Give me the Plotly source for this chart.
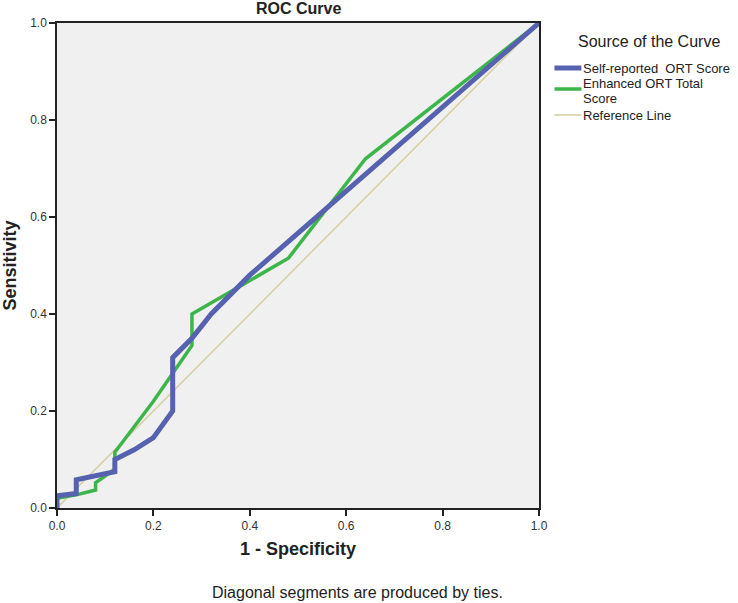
import plotly.graph_objects as go

# Data
self_fpr = [0.0, 0.0, 0.04, 0.04, 0.12, 0.12, 0.16, 0.20, 0.24, 0.24, 0.28, 0.32, 0.40, 1.0]
self_tpr = [0.0, 0.025, 0.03, 0.058, 0.075, 0.10, 0.12, 0.145, 0.20, 0.31, 0.35, 0.40, 0.48, 1.0]

enh_fpr = [0.0, 0.0, 0.04, 0.08, 0.08, 0.12, 0.12, 0.20, 0.28, 0.28, 0.48, 0.64, 1.0]
enh_tpr = [0.0, 0.02, 0.027, 0.037, 0.052, 0.08, 0.115, 0.22, 0.335, 0.40, 0.515, 0.72, 1.0]

ref_x = [0.0, 1.0]
ref_y = [0.0, 1.0]

tick_vals = [0.0, 0.2, 0.4, 0.6, 0.8, 1.0]
tick_text = ["0.0", "0.2", "0.4", "0.6", "0.8", "1.0"]

series_names = ["Self-reported  ORT Score", "Enhanced ORT Total<br>Score", "Reference Line"]
legend_lines = [["Self-reported  ORT Score"], ["Enhanced ORT Total", "Score"], ["Reference Line"]]
series_colors = ["#5661b0", "#3db54a", "#d6d0a4"]
series_widths = [5, 3.5, 1.6]

FONT = "Liberation Sans, Arial, sans-serif"
W, H = 738, 603
L, R, T, B = 56.5, 198.5, 23, 95
PW, PH = W - L - R, H - T - B


def px_x(px):
    return (px - L) / PW


def px_y(py):
    return (H - B - py) / PH


fig = go.Figure()
fig.add_trace(go.Scatter(x=ref_x, y=ref_y, mode="lines", name=series_names[2],
                         line=dict(color=series_colors[2], width=series_widths[2])))
fig.add_trace(go.Scatter(x=enh_fpr, y=enh_tpr, mode="lines", name=series_names[1],
                         line=dict(color=series_colors[1], width=series_widths[1])))
fig.add_trace(go.Scatter(x=self_fpr, y=self_tpr, mode="lines", name=series_names[0],
                         line=dict(color=series_colors[0], width=series_widths[0])))

axis_common = dict(range=[0, 1], tickvals=tick_vals, ticktext=tick_text,
                   ticks="outside", ticklen=6, tickwidth=1.5, tickcolor="#222",
                   showline=True, linecolor="#222", linewidth=1.5, mirror=True,
                   showgrid=False, zeroline=False, automargin=False,
                   tickfont=dict(family=FONT, size=12, color="#333"))

annotations = [
    dict(text="<b>ROC Curve</b>", x=0.5, y=1, xref="paper", yref="paper", xanchor="center", yanchor="bottom",
         yshift=4, showarrow=False, font=dict(family=FONT, size=16, color="#222")),
    dict(text="Diagonal segments are produced by ties.", x=px_x(358), y=px_y(592), xref="paper", yref="paper",
         xanchor="center", yanchor="middle", showarrow=False,
         font=dict(family=FONT, size=16, color="#222")),
    dict(text="Source of the Curve", x=px_x(577), y=px_y(42), xref="paper", yref="paper",
         xanchor="left", yanchor="middle", showarrow=False,
         font=dict(family=FONT, size=16, color="#222")),
]

# Legend (drawn manually to match the compact layout of the reference)
legend_line_y = [68, 89, 115]
legend_text_y = [[68], [83, 98], [115]]
shapes = []
for lines, col, wd, ly, tys in zip(legend_lines, series_colors, series_widths, legend_line_y, legend_text_y):
    shapes.append(dict(type="line", xref="paper", yref="paper", x0=px_x(555), x1=px_x(582),
                       y0=px_y(ly), y1=px_y(ly), line=dict(color=col, width=wd)))
    for txt, ty in zip(lines, tys):
        annotations.append(dict(text=txt, x=px_x(582), y=px_y(ty), xref="paper", yref="paper",
                                xanchor="left", yanchor="middle", align="left", showarrow=False,
                                font=dict(family=FONT, size=13, color="#222")))

fig.update_layout(
    width=W, height=H,
    margin=dict(l=L, r=R, t=T, b=B, pad=0, autoexpand=False),
    paper_bgcolor="white", plot_bgcolor="#f0f0f0",
    showlegend=False,
    xaxis=dict(axis_common, title=dict(text="<b>1 - Specificity</b>", font=dict(family=FONT, size=18, color="#222"), standoff=10)),
    yaxis=dict(axis_common, title=dict(text="<b>Sensitivity</b>", font=dict(family=FONT, size=18, color="#222"), standoff=14)),
    annotations=annotations,
    shapes=shapes,
)

fig.write_html("out.html", config={"displayModeBar": False},
               post_script="document.body.style.margin='0px';document.body.style.overflow='hidden';")
